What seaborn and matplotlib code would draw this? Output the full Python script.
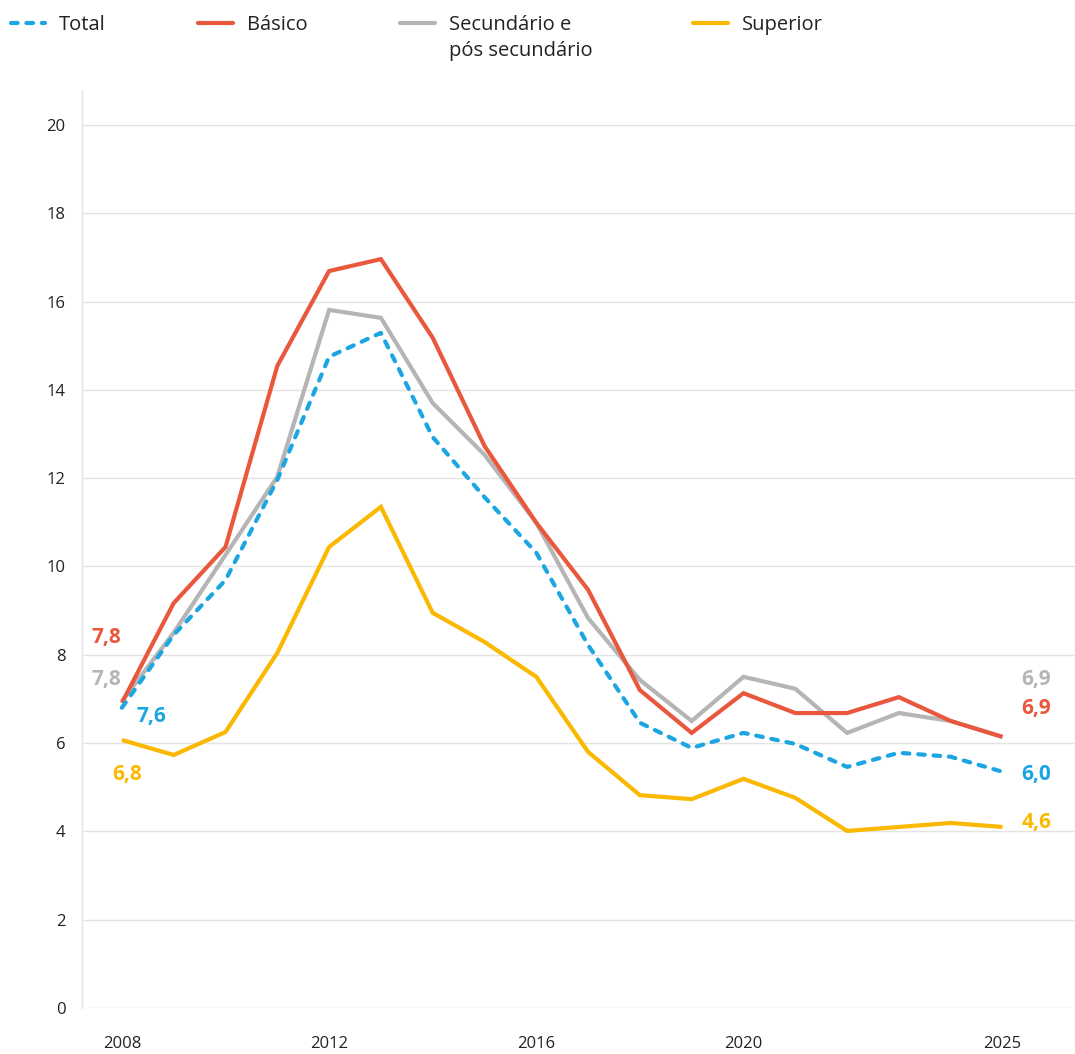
import matplotlib
matplotlib.use("Agg")
import matplotlib.pyplot as plt
import seaborn as sns
import pandas as pd
from matplotlib.lines import Line2D

# Taxa de desemprego por nível de escolaridade (%)
years = list(range(2008, 2026))
total = [6.80, 8.45, 9.69, 11.96, 14.75, 15.29, 12.93, 11.57, 10.31, 8.22,
         6.46, 5.89, 6.23, 5.98, 5.46, 5.78, 5.69, 5.35]
basico = [6.91, 9.17, 10.44, 14.54, 16.69, 16.96, 15.18, 12.73, 10.99, 9.47,
          7.20, 6.23, 7.13, 6.68, 6.68, 7.04, 6.50, 6.14]
secundario = [6.95, 8.50, 10.26, 12.03, 15.81, 15.63, 13.70, 12.53, 10.99, 8.83,
              7.43, 6.50, 7.50, 7.23, 6.23, 6.68, 6.50, 6.14]
superior = [6.07, 5.73, 6.25, 8.04, 10.44, 11.35, 8.95, 8.29, 7.50, 5.80,
            4.82, 4.73, 5.19, 4.76, 4.01, 4.10, 4.19, 4.10]

series_names = ["Total", "Básico", "Secundário e\npós secundário", "Superior"]
colors = {"Total": "#1BA6E2", "Básico": "#E9573D",
          "Secundário e\npós secundário": "#B5B5B5", "Superior": "#FBB800"}

# valores anotados no início e no fim das séries
start_labels = {"Básico": "7,8", "Secundário e\npós secundário": "7,8",
                "Total": "7,6", "Superior": "6,8"}
end_labels = {"Secundário e\npós secundário": "6,9", "Básico": "6,9",
              "Total": "6,0", "Superior": "4,6"}

x_ticks = [2008, 2012, 2016, 2020, 2025]
y_ticks = list(range(0, 21, 2))

sns.set_theme(style="white")
plt.rcParams["font.family"] = ["Open Sans", "DejaVu Sans"]

df = pd.DataFrame({
    "Ano": years * 4,
    "Taxa": total + basico + secundario + superior,
    "Série": sum([[n] * len(years) for n in series_names], []),
})

W, H = 1075, 1054
fig = plt.figure(figsize=(W / 100, H / 100), dpi=100)
ax = fig.add_axes([82 / W, 46 / H, (W - 82) / W, 918 / H])

lw = 3.0
dash_pattern = (1.6, 2.1)
draw_order = ["Secundário e\npós secundário", "Básico", "Superior", "Total"]
for name in draw_order:
    sub = df[df["Série"] == name]
    sns.lineplot(data=sub, x="Ano", y="Taxa", ax=ax, color=colors[name],
                 linewidth=lw, legend=False,
                 solid_joinstyle="miter", solid_capstyle="butt")
    if name == "Total":
        line = ax.lines[-1]
        line.set_dashes(dash_pattern)
        line.set_dash_capstyle("round")

ax.set_xlim(2007.23, 2026.4)
ax.set_ylim(0, 20.79)
ax.set_xticks(x_ticks)
ax.set_yticks(y_ticks)
ax.set_xlabel("")
ax.set_ylabel("")
ax.grid(axis="y", color="#E3E3E3", linewidth=1.0)
ax.set_axisbelow(True)
for s in ["top", "right", "bottom"]:
    ax.spines[s].set_visible(False)
ax.spines["left"].set_color("#E3E3E3")
ax.spines["left"].set_linewidth(1.0)
ax.tick_params(axis="both", length=0, labelsize=12, colors="#222222")
ax.tick_params(axis="y", pad=12)
ax.tick_params(axis="x", pad=20)

# rótulos de valor nas extremidades
bold = dict(fontsize=15, fontweight="bold", va="center", ha="center")
sec = "Secundário e\npós secundário"
ax.text(2007.7, 8.40, start_labels["Básico"], color=colors["Básico"], **bold)
ax.text(2007.7, 7.43, start_labels[sec], color=colors[sec], **bold)
ax.text(2008.56, 6.60, start_labels["Total"], color=colors["Total"], **bold)
ax.text(2008.1, 5.28, start_labels["Superior"], color=colors["Superior"], **bold)
ax.text(2025.65, 7.45, end_labels[sec], color=colors[sec], **bold)
ax.text(2025.65, 6.78, end_labels["Básico"], color=colors["Básico"], **bold)
ax.text(2025.65, 5.28, end_labels["Total"], color=colors["Total"], **bold)
ax.text(2025.65, 4.19, end_labels["Superior"], color=colors["Superior"], **bold)

# legenda no topo: traço alinhado com a primeira linha do texto
legend_x = {"Total": 8, "Básico": 196, sec: 398, "Superior": 691}
legend_y = 23
for name in series_names:
    x0 = legend_x[name]
    kw = dict(color=colors[name], linewidth=lw, transform=fig.transFigure)
    if name == "Total":
        h = Line2D([(x0 + 3) / W, (x0 + 37) / W], [1 - legend_y / H] * 2,
                   dashes=dash_pattern, dash_capstyle="round", **kw)
    else:
        h = Line2D([(x0 + 2) / W, (x0 + 37) / W], [1 - legend_y / H] * 2,
                   solid_capstyle="round", **kw)
    fig.add_artist(h)
    fig.text((x0 + 51) / W, 1 - (legend_y - 8) / H, name, fontsize=14.5,
             color="#222222", ha="left", va="top", linespacing=1.4)

fig.savefig("out.png", dpi=100)
